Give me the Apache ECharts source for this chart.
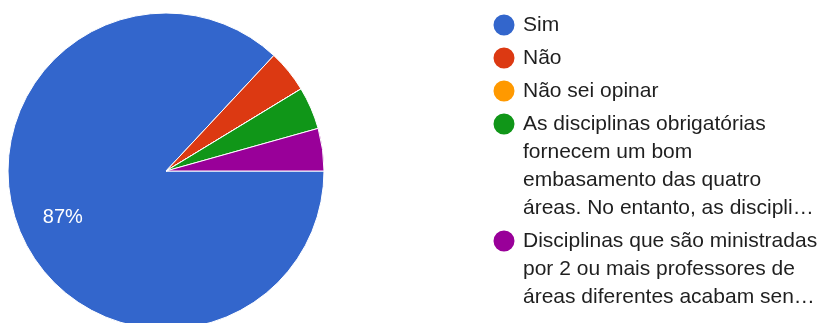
<!DOCTYPE html>
<html>
<head>
<meta charset="utf-8">
<script src="https://cdn.jsdelivr.net/npm/echarts@6/dist/echarts.min.js"></script>
<style>
  html, body { margin: 0; padding: 0; background: #fff; }
  #chart { width: 821px; height: 323px; }
</style>
</head>
<body>
<div id="chart"></div>
<script>
// answers as shown in the legend (long ones are cut off in the original)
const categories = [
    'Sim',
    'Não',
    'Não sei opinar',
    'As disciplinas obrigatórias\nfornecem um bom\nembasamento das quatro\náreas. No entanto, as discipli…',
    'Disciplinas que são ministradas\npor 2 ou mais professores de\náreas diferentes acabam sen…'
];
const counts = [20, 1, 0, 1, 1];
const colors = ['#3366cc', '#dc3912', '#ff9900', '#109618', '#990099'];

const LINE_H = 28;
const ITEM_GAP = 5;
const ICON_W = 28;

const chart = echarts.init(document.getElementById('chart'), null, {renderer: 'canvas'});

// dot sitting on the first text line: a circle at the top of a tall, otherwise empty path
function dotIcon(h) {
    return 'path://M0,0 L0.01,0 M' + ICON_W + ',' + h + ' L' + (ICON_W - 0.01) + ',' + h +
        ' M3.5,14 A10.5,10.5 0 1 1 24.5,14 A10.5,10.5 0 1 1 3.5,14 Z';
}

// one legend per answer so multi-line entries stack like the original
let y = 11;
const legends = categories.map(name => {
    const h = name.split('\n').length * LINE_H;
    const lg = {
        orient: 'vertical',
        left: 490,
        top: y,
        padding: 0,
        itemWidth: ICON_W,
        itemHeight: h,
        symbolKeepAspect: false,
        icon: dotIcon(h),
        selectedMode: false,
        itemStyle: {borderWidth: 0},
        textStyle: {fontSize: 21, lineHeight: LINE_H, color: '#1f1f1f'},
        data: [name]
    };
    y += h + ITEM_GAP;
    return lg;
});

const seriesData = categories.map((name, i) => {
    const item = {name, value: counts[i], itemStyle: {color: colors[i]}};
    if (i === 0) {
        item.label = {show: true, offset: [-28, 14]};
    }
    return item;
});

chart.setOption({
    animation: false,
    textStyle: {fontFamily: '"Liberation Sans", Arial, sans-serif'},
    legend: legends,
    series: [{
        type: 'pie',
        center: [166, 171],
        radius: 158,
        startAngle: 0,
        clockwise: true,
        avoidLabelOverlap: false,
        emphasis: {disabled: true},
        itemStyle: {borderColor: '#fff', borderWidth: 1},
        label: {
            show: false,
            position: 'inside',
            color: '#fff',
            fontSize: 20,
            formatter: p => Math.round(p.percent) + '%'
        },
        labelLine: {show: false},
        data: seriesData
    }]
});
</script>
</body>
</html>
